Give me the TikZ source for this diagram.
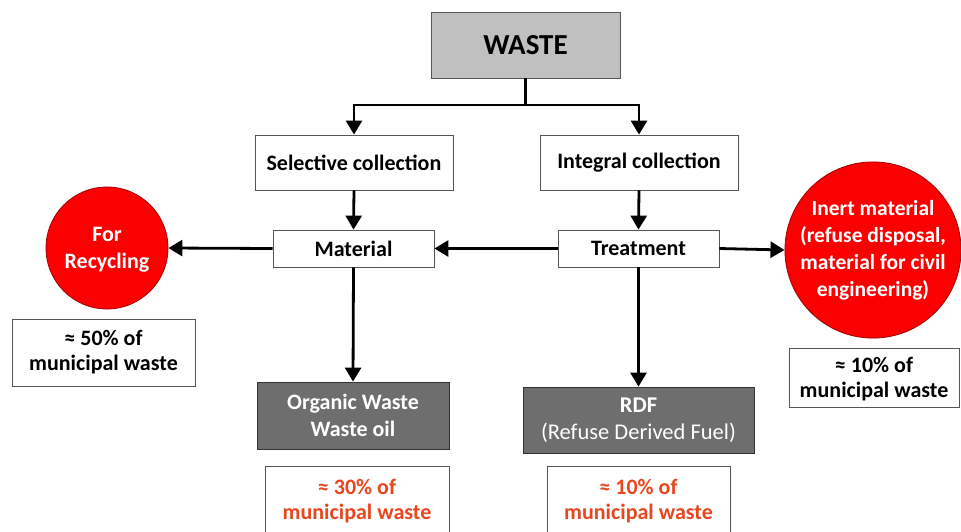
\documentclass[tikz,border=0pt]{standalone}
\usepackage{fontspec}
\setmainfont{Carlito}
\usetikzlibrary{arrows.meta}
\definecolor{boxline}{HTML}{555555}
\definecolor{lightgray}{HTML}{C0C0C0}
\definecolor{darkbox}{HTML}{6E6E6E}
\definecolor{circred}{HTML}{FA0000}
\definecolor{circline}{HTML}{A00000}
\definecolor{pcttext}{HTML}{E8461E}
\tikzset{
  box/.style={draw=boxline, line width=0.8pt, fill=white, inner sep=0pt, align=center,
    font=\fontsize{22}{26}\selectfont\bfseries},
  topbox/.style={box, fill=lightgray, font=\fontsize{29}{32}\selectfont\bfseries},
  darkbox/.style={draw=black!80, line width=0.8pt, fill=darkbox, text=white, inner sep=0pt, align=center},
  circ/.style={circle, draw=circline, line width=0.8pt, fill=circred, text=white, inner sep=0pt, align=center,
    font=\fontsize{22}{27}\selectfont\bfseries},
  pct/.style={draw=boxline, line width=0.8pt, fill=white, inner sep=0pt, align=center,
    font=\fontsize{22}{25}\selectfont\bfseries},
  arr/.style={line width=2.8pt, -{Triangle[width=16pt,length=14pt]}},
  ln/.style={line width=2.8pt}
}
\begin{document}
\begin{tikzpicture}[x=1pt,y=-1pt]
\useasboundingbox (0,0) rectangle (961,531);
\clip (0,0) rectangle (961,531);

\node[topbox, minimum width=189pt, minimum height=66pt] (waste) at (525.5,45) {WASTE};
\node[box, minimum width=198pt, minimum height=55pt] (sel) at (354,162.5) {Selective collection};
\node[box, minimum width=198pt, minimum height=55pt] (int) at (639,162.5) {Integral collection};
\node[box, minimum width=161pt, minimum height=37pt] (mat) at (353.5,248.5) {Material};
\node[box, minimum width=161pt, minimum height=37pt] (treat) at (638.5,248.5) {Treatment};

\node[circ, minimum size=122pt, text depth=0pt] (recyc) at (107,248) {For\\Recycling};
\node[circ, minimum size=176pt, font=\fontsize{21.5}{27}\selectfont\bfseries] (inert) at (873,250) {Inert material\\(refuse disposal,\\material for civil\\engineering)};

\node[darkbox, minimum width=192pt, minimum height=67pt, font=\fontsize{22}{27}\selectfont\bfseries] (org) at (353,415.5) {Organic Waste\\Waste oil};
\node[darkbox, minimum width=231pt, minimum height=66pt, font=\fontsize{22.5}{27}\selectfont] (rdf) at (638.5,420) {\textbf{RDF}\\(Refuse Derived Fuel)};

\node[pct, minimum width=183pt, minimum height=67pt] (p50) at (103.5,352.5) {≈ 50\% of\\municipal waste};
\node[pct, minimum width=170pt, minimum height=59pt, text depth=0pt] (p10r) at (874,377.5) {≈ 10\% of\\municipal waste};
\node[pct, minimum width=184pt, minimum height=70pt, text=pcttext, anchor=north] (p30) at (357,466) {≈ 30\% of\\municipal waste};
\node[pct, minimum width=183pt, minimum height=70pt, text=pcttext, anchor=north] (p10b) at (638.5,466) {≈ 10\% of\\municipal waste};

\coordinate (split) at (525.5,105);
\draw[ln] (waste.south) -- (split);
\draw[arr] (split) -| (sel.north);
\draw[arr] (split) -| (int.north);
\draw[arr] (sel.south) -- (mat.north);
\draw[arr] (int.south) -- (treat.north);
\draw[arr] (treat.west) -- (mat.east);
\draw[arr] (mat.west) -- (recyc.east);
\draw[arr] (treat.east) -- (inert.west);
\draw[arr] (mat.south) -- (org.north);
\draw[arr] (treat.south) -- (rdf.north);
\end{tikzpicture}
\end{document}
